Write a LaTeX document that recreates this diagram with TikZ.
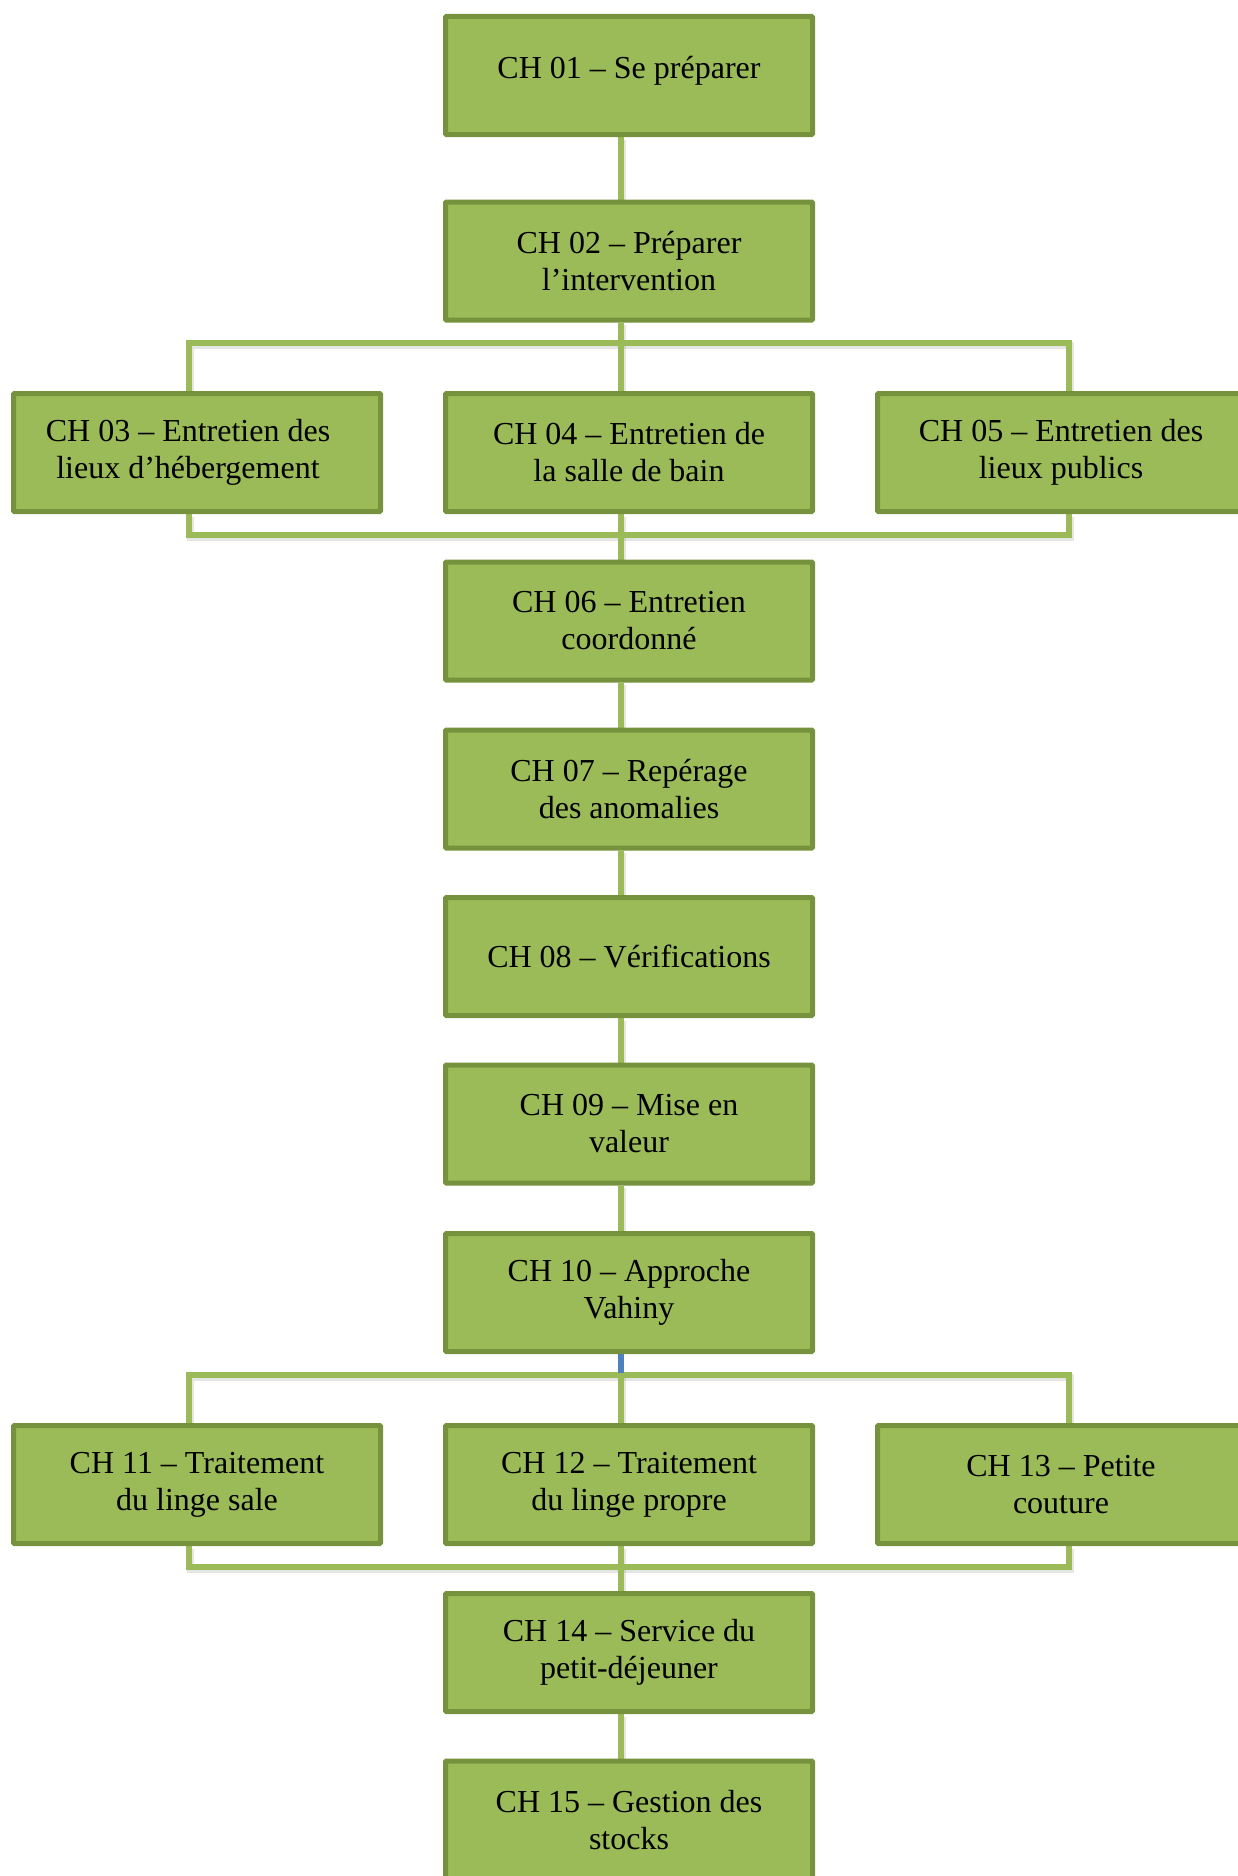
\documentclass[tikz,border=0pt]{standalone}
\usepackage{fontspec}
\setmainfont{Liberation Serif}
\usetikzlibrary{backgrounds}
\definecolor{boxfill}{HTML}{9BBB59}
\definecolor{boxline}{HTML}{76923C}
\definecolor{linkblue}{HTML}{4F81BD}
\tikzset{
  box/.style={draw=boxline, fill=boxfill, line width=5pt, minimum width=367pt,
    minimum height=118pt, inner sep=0pt, align=center, rounded corners=1pt,
    font=\fontsize{32}{37}\selectfont},
  link/.style={draw=boxfill, line width=5.5pt},
  linkshadow/.style={draw=black, opacity=0.10, line width=7pt,
    transform canvas={shift={(1pt,-2.5pt)}}},
}
\begin{document}
\begin{tikzpicture}[x=1pt,y=-1pt]
\useasboundingbox (0,0) rectangle (1238,1876);
% column x positions for connectors
\coordinate (cx) at (621,0);
\coordinate (lx) at (189,0);
\coordinate (rx) at (1069,0);
\coordinate (busA) at (0,343);
\coordinate (busB) at (0,535);
\coordinate (busC) at (0,1375);
\coordinate (busD) at (0,1567);
\coordinate (blueend) at (621,1373);

\node[box, text depth=16pt] (ch01) at (629,75.5) {CH 01 – Se préparer};
\node[box] (ch02) at (629,261) {CH 02 – Préparer\\l’intervention};
\node[box] (ch03) at (197,452.5) {CH 03 – Entretien des\hspace*{18pt}\\lieux d’hébergement\hspace*{18pt}};
\node[box] (ch04) at (629,452.5) {CH 04 – Entretien de\\la salle de bain};
\node[box] (ch05) at (1061,452.5) {CH 05 – Entretien des\\lieux publics};
\node[box] (ch06) at (629,621) {CH 06 – Entretien\\coordonné};
\node[box] (ch07) at (629,789) {CH 07 – Repérage\\des anomalies};
\node[box] (ch08) at (629,956.5) {CH 08 – Vérifications};
\node[box] (ch09) at (629,1124) {CH 09 – Mise en\\valeur};
\node[box] (ch10) at (629,1292.5) {CH 10 – Approche\\Vahiny};
\node[box] (ch11) at (197,1484.5) {CH 11 – Traitement\\du linge sale};
\node[box] (ch12) at (629,1484.5) {CH 12 – Traitement\\du linge propre};
\node[box] (ch13) at (1061,1484.5) {CH 13 – Petite\\couture};
\node[box] (ch14) at (629,1652.5) {CH 14 – Service du\\petit-déjeuner};
\node[box] (ch15) at (629,1820) {CH 15 – Gestion des\\stocks};

\begin{scope}[on background layer]
  \foreach \st in {linkshadow, link}{
    \draw[\st] (ch01.south -| cx) -- (ch02.north -| cx);
    \draw[\st] (ch02.south -| cx) -- (busA -| cx);
    \draw[\st] (ch03.north -| lx) -- (busA -| lx) -- (busA -| rx) -- (ch05.north -| rx);
    \draw[\st] (busA -| cx) -- (ch04.north -| cx);
    \draw[\st] (ch03.south -| lx) -- (busB -| lx) -- (busB -| rx) -- (ch05.south -| rx);
    \draw[\st] (ch04.south -| cx) -- (ch06.north -| cx);
    \draw[\st] (ch06.south -| cx) -- (ch07.north -| cx);
    \draw[\st] (ch07.south -| cx) -- (ch08.north -| cx);
    \draw[\st] (ch08.south -| cx) -- (ch09.north -| cx);
    \draw[\st] (ch09.south -| cx) -- (ch10.north -| cx);
    \draw[\st] (ch11.north -| lx) -- (busC -| lx) -- (busC -| rx) -- (ch13.north -| rx);
    \draw[\st] (busC -| cx) -- (ch12.north -| cx);
    \draw[\st] (ch11.south -| lx) -- (busD -| lx) -- (busD -| rx) -- (ch13.south -| rx);
    \draw[\st] (ch12.south -| cx) -- (ch14.north -| cx);
    \draw[\st] (ch14.south -| cx) -- (ch15.north -| cx);
  }
  \draw[link, draw=linkblue] (ch10.south -| cx) -- (blueend);
\end{scope}
\end{tikzpicture}
\end{document}
